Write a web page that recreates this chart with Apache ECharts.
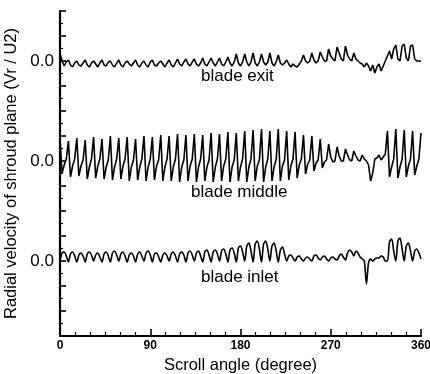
<!DOCTYPE html>
<html>
<head>
<meta charset="utf-8">
<script src="https://cdn.jsdelivr.net/npm/echarts@6.0.0/dist/echarts.min.js"></script>
<style>
  html, body { margin: 0; padding: 0; background: #fff; }
  #chart { width: 430px; height: 374px; }
</style>
</head>
<body>
<div id="chart"></div>
<script>
// samples are taken every 360/172 deg (4 per blade passage, 43 passages)
var angleStep = 360 / 172;

// blade exit (relative to its own 0.0 line)
var exitVals = [
  0.07, 0.0, -0.05, -0.01,   0.01, -0.04, -0.06, -0.02,   0.0, -0.04, -0.05, -0.02,
  0.01, -0.04, -0.06, -0.02,  0.0, -0.03, -0.06, -0.02,   0.01, -0.04, -0.05, -0.01,
  0.0, -0.04, -0.06, -0.02,   0.01, -0.04, -0.06, -0.02,  0.0, -0.03, -0.05, -0.02,
  0.01, -0.04, -0.06, -0.02,  0.0, -0.04, -0.06, -0.01,   0.01, -0.04, -0.05, -0.02,
  0.0, -0.03, -0.06, -0.02,   0.01, -0.04, -0.06, -0.02,  0.02, -0.03, -0.05, -0.01,
  0.02, -0.03, -0.05, -0.01,  0.02, -0.03, -0.05, -0.02,  0.03, -0.03, -0.05, -0.01,
  0.03, -0.02, -0.05, -0.01,  0.03, -0.03, -0.05, -0.01,  0.04, -0.02, -0.05, -0.01,
  0.07, -0.02, -0.05, -0.01,  0.07, -0.01, -0.05, -0.01,  0.08, -0.02, -0.05, -0.01,
  0.07, -0.01, -0.04, -0.01,  0.08, -0.02, -0.05, -0.01,  0.06, -0.02, -0.04, -0.02,
  0.01, -0.03, -0.06, -0.03,  -0.05, -0.06, -0.03, 0.0,   0.06, 0.0, -0.02, 0.0,
  0.08, 0.01, -0.02, 0.0,     0.09, 0.04, 0.0, 0.0,       0.12, 0.05, 0.02, 0.0,
  0.14, 0.08, 0.02, 0.0,      0.15, 0.06, 0.02, 0.0,      0.08, 0.02, 0.0, -0.02,
  -0.03, -0.06, -0.02, -0.05, -0.1, -0.04, -0.12, -0.06,  -0.03, -0.1, -0.05, 0.0,
  0.05, 0.1, 0.02, 0.12,      0.16, 0.02, 0.0, 0.15,      0.17, 0.03, 0.0, 0.15,
  0.16, 0.02, 0.0, 0.0,
  0.0
];

// blade middle
var middleVals = [
  0.22, -0.12, -0.04, 0.02,  0.2, -0.16, -0.05, 0.02,   0.23, -0.15, -0.05, 0.01,
  0.21, -0.18, -0.06, 0.02,  0.24, -0.17, -0.05, 0.02,  0.22, -0.18, -0.06, 0.01,
  0.25, -0.19, -0.06, 0.02,  0.23, -0.18, -0.05, 0.02,  0.24, -0.2, -0.06, 0.01,
  0.22, -0.19, -0.06, 0.02,  0.25, -0.2, -0.06, 0.02,   0.24, -0.19, -0.05, 0.01,
  0.26, -0.2, -0.06, 0.02,   0.25, -0.2, -0.06, 0.02,   0.27, -0.21, -0.06, 0.01,
  0.26, -0.2, -0.05, 0.02,   0.27, -0.21, -0.06, 0.02,  0.26, -0.2, -0.06, 0.01,
  0.28, -0.21, -0.06, 0.02,  0.27, -0.2, -0.05, 0.02,   0.29, -0.21, -0.06, 0.01,
  0.28, -0.2, -0.06, 0.02,   0.3, -0.21, -0.06, 0.02,   0.31, -0.2, -0.05, 0.01,
  0.32, -0.21, -0.06, 0.02,  0.3, -0.2, -0.06, 0.02,    0.32, -0.2, -0.05, 0.01,
  0.3, -0.19, -0.05, 0.02,   0.29, -0.17, -0.04, 0.02,  0.26, -0.13, -0.03, 0.01,
  0.25, -0.1, -0.02, 0.01,   0.22, -0.07, -0.01, 0.01,  0.17, 0.04, -0.01, 0.0,
  0.14, 0.05, 0.0, 0.0,      0.12, 0.06, 0.01, 0.0,     0.1, 0.05, 0.01, 0.0,
  0.06, 0.02, 0.0, -0.04,    -0.2, -0.12, 0.02, 0.03,   0.06, 0.01, 0.04, 0.07,
  0.3, -0.16, -0.06, 0.02,   0.32, -0.17, -0.06, 0.02,  0.31, -0.16, -0.05, 0.02,
  0.3, -0.14, -0.05, 0.02,
  0.28
];

// blade inlet
var inletVals = [
  0.0, 0.08, 0.09, 0.05,    -0.01, 0.07, 0.09, 0.05,  -0.01, 0.06, 0.08, 0.05,
  -0.01, 0.07, 0.09, 0.06,  0.0, 0.06, 0.08, 0.04,    -0.01, 0.07, 0.09, 0.05,
  -0.01, 0.08, 0.1, 0.06,   0.0, 0.07, 0.09, 0.05,    -0.01, 0.06, 0.08, 0.05,
  -0.01, 0.07, 0.09, 0.05,  0.0, 0.08, 0.1, 0.06,     -0.01, 0.07, 0.08, 0.04,
  -0.01, 0.06, 0.08, 0.05,  0.0, 0.07, 0.09, 0.05,    -0.01, 0.07, 0.09, 0.06,
  -0.01, 0.08, 0.1, 0.06,   0.0, 0.08, 0.1, 0.05,     -0.01, 0.09, 0.11, 0.06,
  -0.01, 0.09, 0.11, 0.07,  0.0, 0.1, 0.12, 0.07,     -0.01, 0.11, 0.13, 0.08,
  -0.01, 0.13, 0.15, 0.09,  0.0, 0.15, 0.18, 0.1,     -0.01, 0.17, 0.2, 0.12,
  -0.01, 0.17, 0.2, 0.12,   0.0, 0.15, 0.18, 0.1,     -0.01, 0.11, 0.14, 0.07,
  0.0, 0.05, 0.06, 0.03,    0.0, 0.04, 0.05, 0.02,    0.0, 0.03, 0.04, 0.02,
  0.0, 0.05, 0.06, 0.03,    0.01, 0.04, 0.05, 0.02,   0.0, 0.03, 0.04, 0.02,
  0.01, 0.05, 0.07, 0.04,   0.01, 0.08, 0.11, 0.09,   0.05, 0.1, 0.08, 0.04,
  0.02, 0.0, -0.23, -0.02,  0.02, 0.0, 0.02, 0.03,    0.03, 0.05, 0.04, 0.0,
  0.0, 0.19, 0.22, 0.1,     0.0, 0.2, 0.23, 0.12,     0.0, 0.15, 0.18, 0.1,
  0.0, 0.1, 0.12, 0.08,
  0.02
];

// each curve is shifted to its own 0.0 line
var curveNames = ['blade exit', 'blade middle', 'blade inlet'];
var curveOffsets = [2, 1, 0];
var zeroLines = [0, 1, 2];
var xTicks = [0, 90, 180, 270, 360];

function shifted(vals, off) {
  var pts = [];
  for (var i = 0; i < vals.length; i++) {
    pts.push([i * angleStep, vals[i] + off]);
  }
  return pts;
}

var font = 'Liberation Sans, Arial, sans-serif';
var chart = echarts.init(document.getElementById('chart'), null, { renderer: 'canvas' });

var lineStyle = { color: '#000', width: 1.6 };

chart.setOption({
  animation: false,
  backgroundColor: '#fff',
  grid: { left: 60, right: 9, top: 11, bottom: 38, outerBoundsMode: 'none', containLabel: false },
  xAxis: {
    type: 'value',
    min: 0,
    max: 360,
    interval: 90,
    name: 'Scroll angle (degree)',
    nameLocation: 'middle',
    nameGap: 18,
    nameTextStyle: { fontFamily: font, fontSize: 16.5, color: '#000' },
    axisLine: { onZero: false, lineStyle: { color: '#000', width: 2.2 } },
    axisTick: { inside: true, length: 7, lineStyle: { color: '#000', width: 1.6 } },
    minorTick: { show: true, splitNumber: 6, length: 4, lineStyle: { color: '#000', width: 1.2 } },
    axisLabel: {
      fontFamily: font, fontSize: 12, fontWeight: 'bold', color: '#000', margin: 4,
      formatter: function (v) { return xTicks.indexOf(v) >= 0 ? String(v) : ''; }
    },
    splitLine: { show: false }
  },
  yAxis: {
    type: 'value',
    min: -0.75,
    max: 2.5,
    interval: 0.25,
    name: 'Radial velocity of shroud plane (Vr / U2)',
    nameLocation: 'middle',
    nameGap: 35,
    nameTextStyle: { fontFamily: font, fontSize: 16.5, color: '#000' },
    axisLine: { show: true, onZero: false, lineStyle: { color: '#000', width: 2.2 } },
    axisTick: { inside: true, length: 6, lineStyle: { color: '#000', width: 1.6 } },
    minorTick: { show: true, splitNumber: 2, length: 3, lineStyle: { color: '#000', width: 1.2 } },
    axisLabel: {
      fontFamily: font, fontSize: 17, color: '#000', margin: 6,
      formatter: function (v) { return zeroLines.indexOf(v) >= 0 ? '0.0' : ''; }
    },
    splitLine: { show: false }
  },
  series: [
    { name: curveNames[0], type: 'line', showSymbol: false, lineStyle: lineStyle, data: shifted(exitVals, curveOffsets[0]) },
    { name: curveNames[1], type: 'line', showSymbol: false, lineStyle: lineStyle, data: shifted(middleVals, curveOffsets[1]) },
    { name: curveNames[2], type: 'line', showSymbol: false, smooth: 0.3, lineStyle: lineStyle, data: shifted(inletVals, curveOffsets[2]) }
  ],
  graphic: [
    { type: 'text', left: 201, top: 68, style: { text: curveNames[0], font: '17px ' + font, fill: '#000' } },
    { type: 'text', left: 191, top: 184, style: { text: curveNames[1], font: '17px ' + font, fill: '#000' } },
    { type: 'text', left: 201, top: 269, style: { text: curveNames[2], font: '17px ' + font, fill: '#000' } }
  ]
});
</script>
</body>
</html>
